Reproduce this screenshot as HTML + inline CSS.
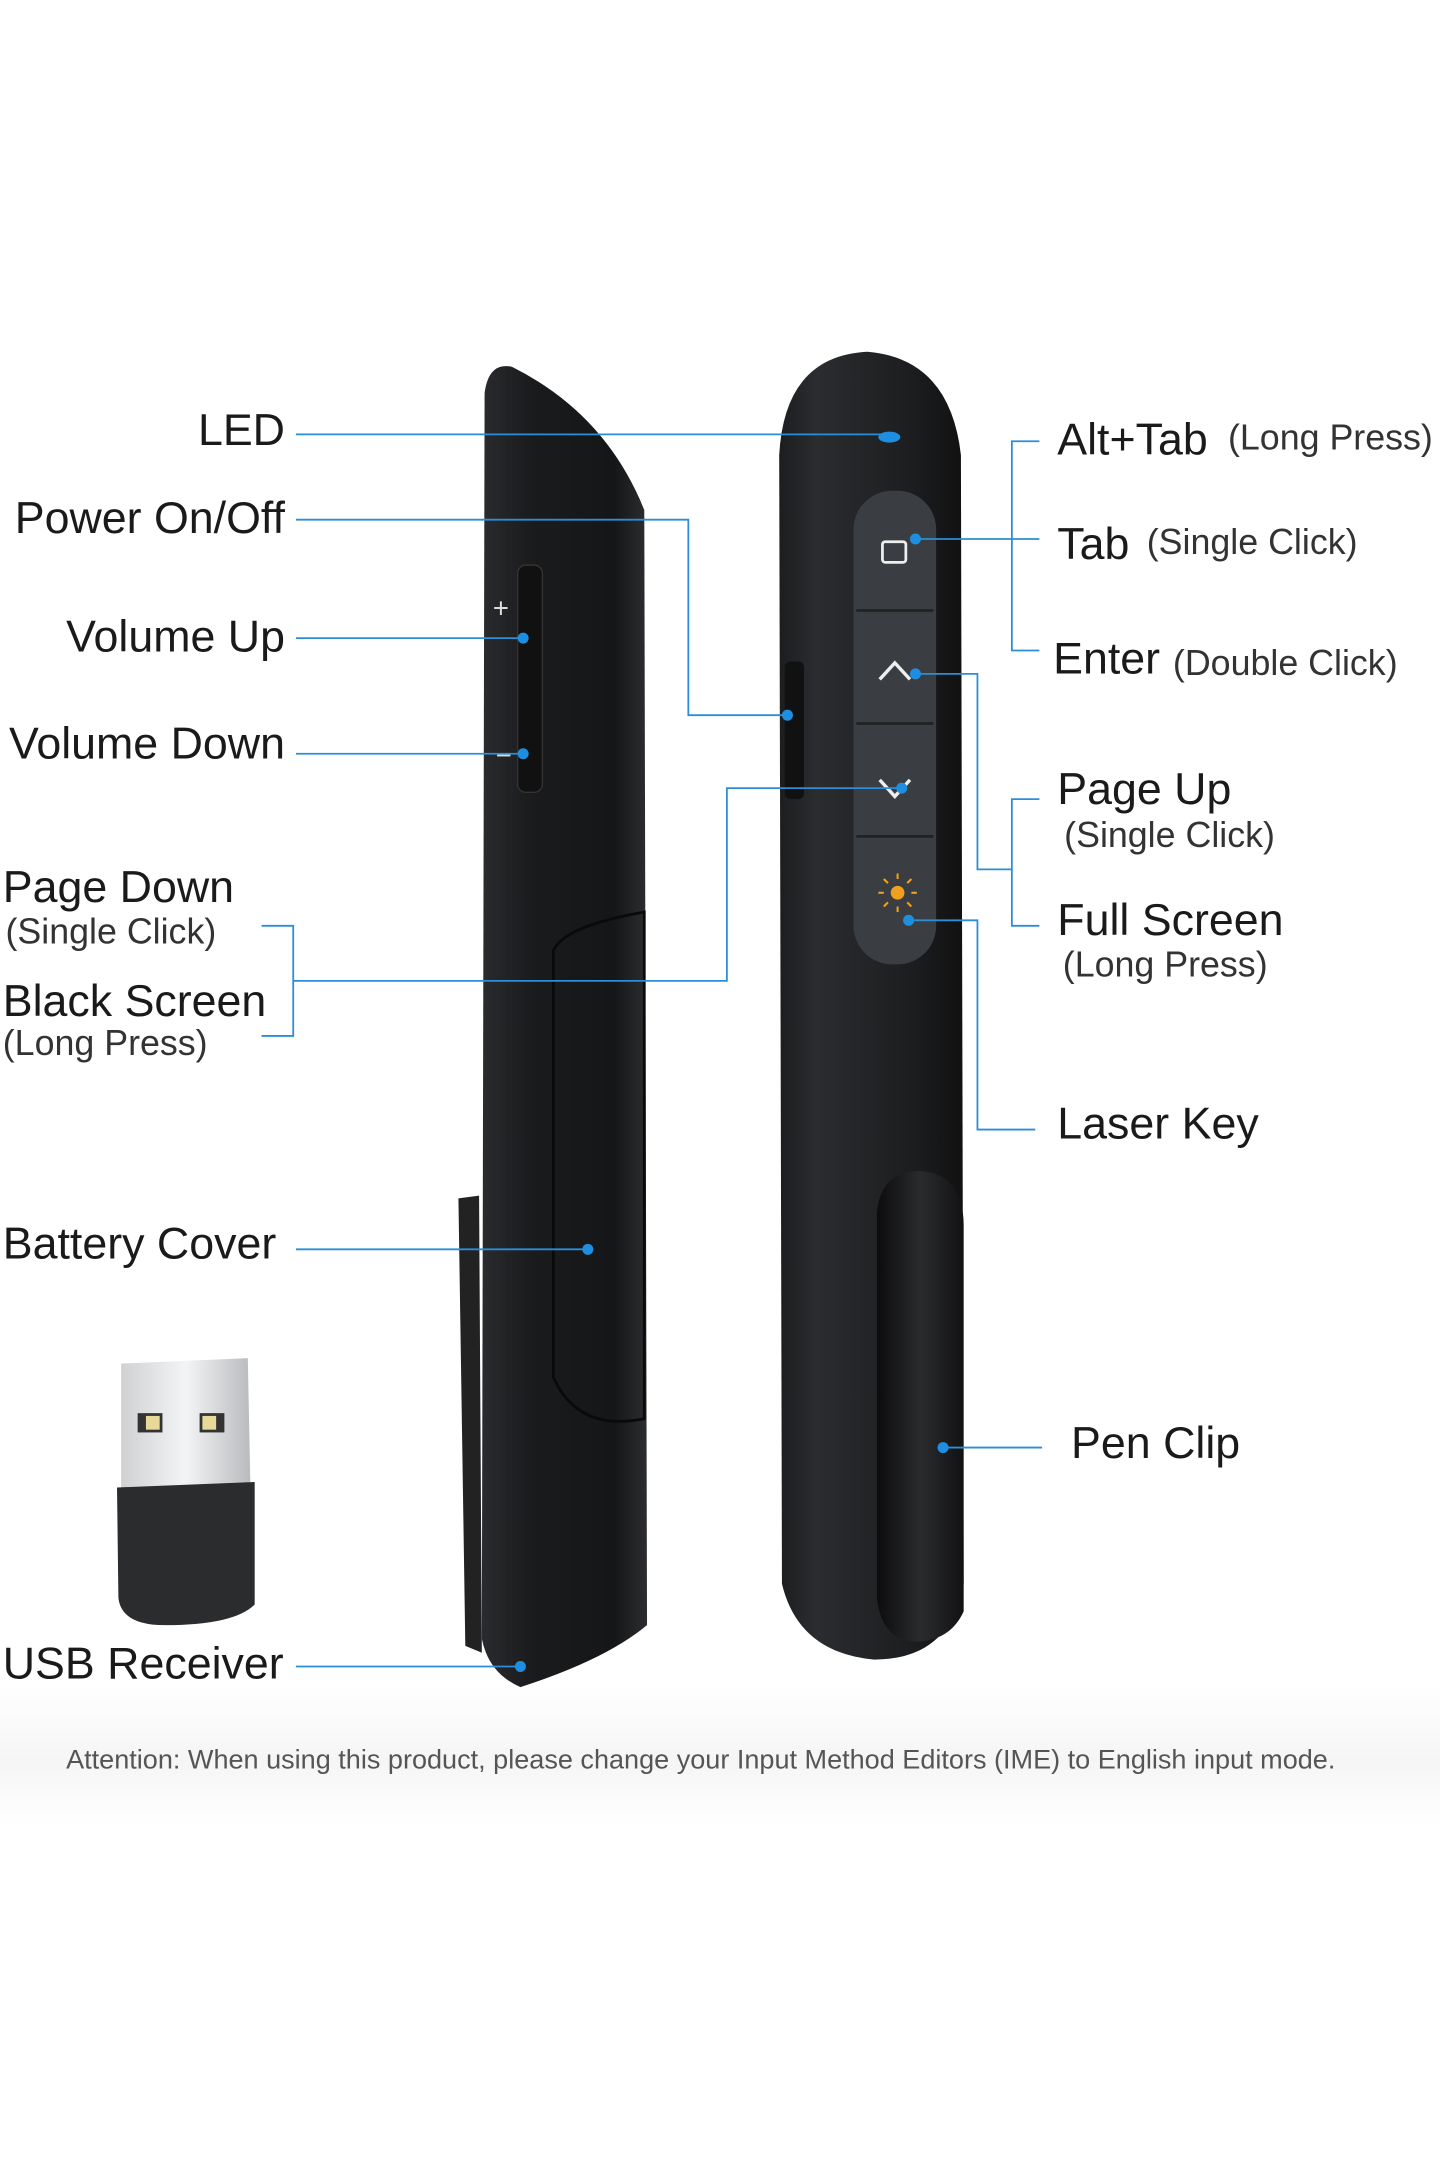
<!DOCTYPE html>
<html><head><meta charset="utf-8"><style>
html,body{margin:0;padding:0;background:#fff;}
svg{display:block;}
text{font-family:"Liberation Sans",Arial,sans-serif;fill:#1a1a1a;}
</style></head><body>
<svg width="1440" height="2160" viewBox="0 0 1046 1568" xmlns="http://www.w3.org/2000/svg">
<defs>
<linearGradient id="bodyL" x1="0" x2="1" y1="0" y2="0">
<stop offset="0" stop-color="#2a2b2e"/><stop offset="0.3" stop-color="#1a1b1d"/><stop offset="0.8" stop-color="#151617"/><stop offset="1" stop-color="#2c2d30"/></linearGradient>
<linearGradient id="bodyR" x1="0" x2="1" y1="0" y2="0">
<stop offset="0" stop-color="#1c1d1f"/><stop offset="0.2" stop-color="#2b2c2f"/><stop offset="0.7" stop-color="#1d1e20"/><stop offset="1" stop-color="#111"/></linearGradient>
<linearGradient id="clip" x1="0" x2="1" y1="0" y2="0">
<stop offset="0" stop-color="#0c0c0d"/><stop offset="0.5" stop-color="#2a2b2d"/><stop offset="1" stop-color="#121213"/></linearGradient>
<linearGradient id="silver" x1="0" x2="1"><stop offset="0" stop-color="#cfd1d3"/><stop offset="0.5" stop-color="#f3f4f5"/><stop offset="1" stop-color="#b9bbbe"/></linearGradient>
<linearGradient id="bg" x1="0" x2="0" y1="0" y2="1"><stop offset="0" stop-color="#fff"/><stop offset="0.78" stop-color="#fff"/><stop offset="0.815" stop-color="#f5f5f5"/><stop offset="0.845" stop-color="#fff"/></linearGradient>
</defs>
<rect width="1046" height="1568" fill="url(#bg)"/>

<!-- left device -->
<path d="M333 870 L348 868 L350 1200 L338 1195 Z" fill="#222"/>
<path d="M352 285 Q355 262 372 266 Q440 300 468 370 L470 1180 Q440 1205 378 1225 Q355 1215 350 1190 Z" fill="url(#bodyL)"/>
<path d="M402 690 Q410 672 468 662 L468 1030 Q420 1040 402 1000 Z" fill="none" stroke="#0a0a0a" stroke-width="2"/>
<rect x="376" y="410" width="18" height="165" rx="6" fill="#111" stroke="#333"/>
<text x="358" y="448" font-size="20" style="fill:#ddd">+</text>
<text x="360" y="555" font-size="20" style="fill:#ddd">−</text>

<!-- right device -->
<path d="M566 330 Q570 258 630 255 Q690 260 698 330 L700 1150 Q690 1205 635 1205 Q580 1200 568 1150 Z" fill="url(#bodyR)"/>
<rect x="570" y="480" width="14" height="100" rx="4" fill="#111"/>
<rect x="620" y="356" width="60" height="344" rx="28" fill="#3a3d42"/>
<line x1="622" y1="443" x2="678" y2="443" stroke="#222" stroke-width="2"/>
<line x1="622" y1="525" x2="678" y2="525" stroke="#222" stroke-width="2"/>
<line x1="622" y1="607" x2="678" y2="607" stroke="#222" stroke-width="2"/>
<rect x="641" y="393" width="17" height="15" rx="2" fill="none" stroke="#eee" stroke-width="2"/>
<path d="M639 493 L650 481 L661 493" fill="none" stroke="#eee" stroke-width="2.5"/>
<path d="M639 566 L650 578 L661 566" fill="none" stroke="#eee" stroke-width="2.5"/>
<circle cx="652" cy="648" r="5" fill="#f0a020"/>
<g stroke="#f0a020" stroke-width="1.5"><line x1="652" y1="634" x2="652" y2="638"/><line x1="652" y1="658" x2="652" y2="662"/><line x1="638" y1="648" x2="642" y2="648"/><line x1="662" y1="648" x2="666" y2="648"/><line x1="642" y1="638" x2="645" y2="641"/><line x1="659" y1="655" x2="662" y2="658"/><line x1="662" y1="638" x2="659" y2="641"/><line x1="642" y1="658" x2="645" y2="655"/></g>
<path d="M637 880 Q640 850 668 850 Q700 852 700 890 L700 1170 Q690 1192 664 1192 Q640 1190 637 1160 Z" fill="url(#clip)"/>

<!-- USB receiver -->
<path d="M88 990 L180 986 L182 1085 L88 1085 Z" fill="url(#silver)"/>
<rect x="100" y="1026" width="18" height="14" fill="#333"/><rect x="106" y="1028" width="10" height="10" fill="#e8d89a"/>
<rect x="145" y="1026" width="18" height="14" fill="#333"/><rect x="147" y="1028" width="10" height="10" fill="#e8d89a"/>
<path d="M85 1080 L185 1076 L185 1165 Q170 1180 120 1180 Q88 1180 86 1160 Z" fill="#2b2c2e"/>

<!-- connectors -->
<g stroke="#2b8ed6" stroke-width="1.3" fill="none">
<polyline points="215,315 645,315"/>
<polyline points="215,377 500,377 500,519 572,519"/>
<polyline points="215,463 380,463"/>
<polyline points="215,547 380,547"/>
<polyline points="190,672 213,672 213,752 190,752"/>
<polyline points="213,712 528,712 528,572 655,572"/>
<polyline points="215,907 427,907"/>
<polyline points="215,1210 378,1210"/>
<polyline points="755,320 735,320 735,472 755,472"/>
<polyline points="665,391 755,391"/>
<polyline points="755,580 735,580 735,672 755,672"/>
<polyline points="665,489 710,489 710,631 735,631"/>
<polyline points="660,668 710,668 710,820 752,820"/>
<polyline points="685,1051 757,1051"/>
</g>
<g fill="#1e8fe0">
<ellipse cx="646" cy="317" rx="8" ry="4"/>
<circle cx="572" cy="519" r="4"/><circle cx="380" cy="463" r="4"/><circle cx="380" cy="547" r="4"/>
<circle cx="655" cy="572" r="4"/><circle cx="427" cy="907" r="4"/><circle cx="378" cy="1210" r="4"/>
<circle cx="665" cy="391" r="4"/><circle cx="665" cy="489" r="4"/><circle cx="660" cy="668" r="4"/><circle cx="685" cy="1051" r="4"/>
</g>

<!-- labels -->
<g font-size="32.5" dominant-baseline="middle">
<text x="207" y="314" text-anchor="end">LED</text>
<text x="207" y="378" text-anchor="end">Power On/Off</text>
<text x="207" y="464" text-anchor="end">Volume Up</text>
<text x="207" y="542" text-anchor="end">Volume Down</text>
<text x="2" y="646">Page Down</text>
<text x="2" y="729">Black Screen</text>
<text x="2" y="905">Battery Cover</text>
<text x="2" y="1210">USB Receiver</text>
<text x="768" y="321">Alt+Tab</text>
<text x="768" y="397">Tab</text>
<text x="765" y="480">Enter</text>
<text x="768" y="575">Page Up</text>
<text x="768" y="670">Full Screen</text>
<text x="768" y="818">Laser Key</text>
<text x="778" y="1050">Pen Clip</text>
</g>
<g font-size="26" dominant-baseline="middle">
<text x="4" y="678" style="fill:#333">(Single Click)</text>
<text x="2" y="759" style="fill:#333">(Long Press)</text>
<text x="892" y="319" style="fill:#333">(Long Press)</text>
<text x="833" y="395" style="fill:#333">(Single Click)</text>
<text x="852" y="483" style="fill:#333">(Double Click)</text>
<text x="773" y="608" style="fill:#333">(Single Click)</text>
<text x="772" y="702" style="fill:#333">(Long Press)</text>
</g>
<text x="48" y="1279" font-size="19.5" textLength="922" lengthAdjust="spacingAndGlyphs" dominant-baseline="middle" style="fill:#555">Attention: When using this product, please change your Input Method Editors (IME) to English input mode.</text>
</svg>
</body></html>
